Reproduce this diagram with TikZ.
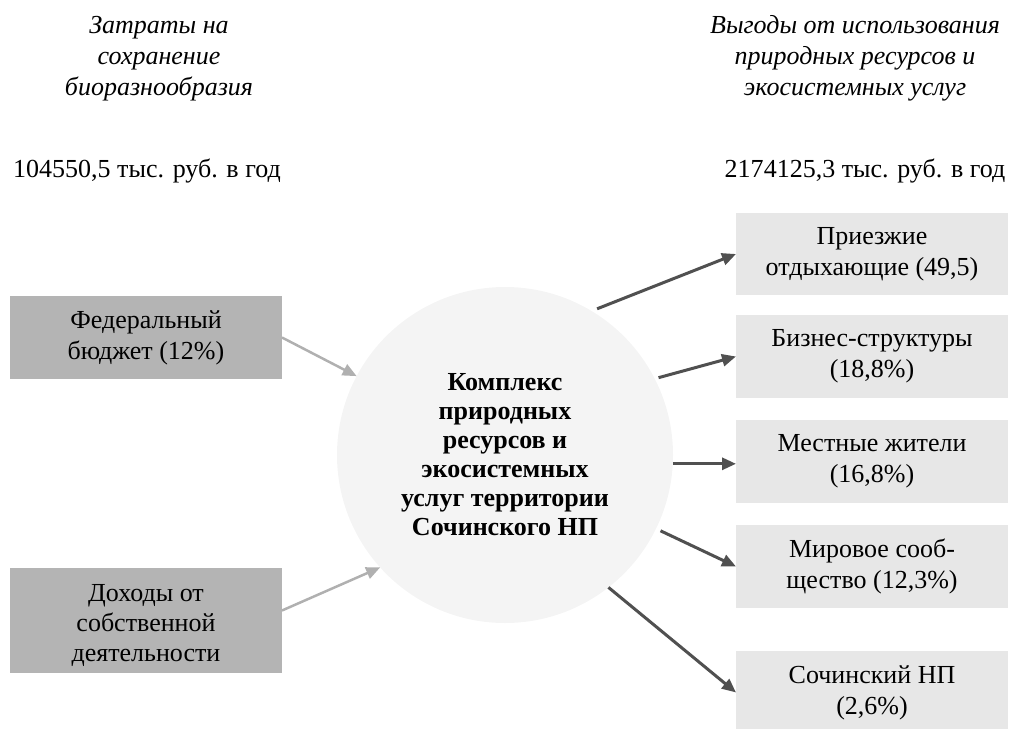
\documentclass[tikz,border=0pt]{standalone}
\usepackage{fontspec}
\setmainfont{Liberation Serif}
\usetikzlibrary{arrows.meta}
\definecolor{leftfill}{HTML}{B4B4B4}
\definecolor{rightfill}{HTML}{E7E7E7}
\definecolor{circfill}{HTML}{F4F4F4}
\definecolor{darkarrow}{HTML}{505050}
\definecolor{lightarrow}{HTML}{B0B0B0}
\begin{document}
\begin{tikzpicture}[x=1pt,y=-1pt,
  txt/.style={font=\fontsize{26}{31}\selectfont, align=center, inner sep=0pt},
  lbox/.style={txt, fill=leftfill, minimum width=272pt, outer sep=0pt},
  rbox/.style={txt, fill=rightfill, minimum width=272pt, minimum height=83pt, outer sep=0pt},
  hdr/.style={font=\fontsize{26}{31}\selectfont\itshape, align=center, inner sep=0pt},
  darr/.style={draw=darkarrow, line width=3pt, -{Triangle[length=14pt,width=12pt]}},
  larr/.style={draw=lightarrow, line width=2.5pt, -{Triangle[length=14pt,width=12pt]}}
]
\useasboundingbox (0,0) rectangle (1009,728);
% headers
\node[hdr] (hl) at (159,59) {Затраты на\\сохранение\\биоразнообразия};
\node[hdr] (hr) at (855,58) {Выгоды от использования\\природных ресурсов и\\экосистемных услуг};
\node[txt, anchor=base] (sl) at (147,177) {104550,5 тыс. руб. в год};
\node[txt, anchor=base] (sr) at (865,177) {2174125,3 тыс. руб. в год};
% left boxes
\node[lbox, minimum height=83pt] (fed) at (146,337.5) {Федеральный\\бюджет (12\%)};
\node[fill=leftfill, minimum width=272pt, minimum height=105pt, inner sep=0pt, outer sep=0pt,
      font=\fontsize{26}{30}\selectfont] (doh) at (146,620.5)
      {\raisebox{-5pt}[\height][\depth]{\begin{tabular}{@{}c@{}}Доходы от\\собственной\\деятельности\end{tabular}}};
% circle
\node[circle, fill=circfill, minimum size=336pt, inner sep=0pt, outer sep=0pt,
      font=\fontsize{26}{29}\selectfont\bfseries, align=center] (c) at (505,455)
      {Комплекс\\природных\\ресурсов и\\экосистемных\\услуг территории\\Сочинского НП};
% right boxes
\node[rbox, minimum height=82pt] (r1) at (872,254) {Приезжие\\отдыхающие (49,5)};
\node[rbox] (r2) at (872,356.5) {Бизнес-структуры\\(18,8\%)};
\node[rbox] (r3) at (872,461.5) {Местные жители\\(16,8\%)};
\node[rbox] (r4) at (872,566.5) {Мировое сооб-\\щество (12,3\%)};
\node[rbox] (r5) at (872,692.5) {Сочинский НП\\(2,6\%)};
% arrows
\draw[larr] (fed.east) -- (c.152);
\draw[larr] ([yshift=10pt]doh.east) -- (c.222);
\draw[darr, shorten <=6pt] (c.59) -- (r1.west);
\draw[darr, shorten <=4pt] (c.27) -- (r2.west);
\draw[darr] (c.-3) -- (c.-3 -| r3.west);
\draw[darr, shorten <=5pt] (c.-26) -- (r4.west);
\draw[darr] (c.-52) -- (r5.west);
\end{tikzpicture}
\end{document}
